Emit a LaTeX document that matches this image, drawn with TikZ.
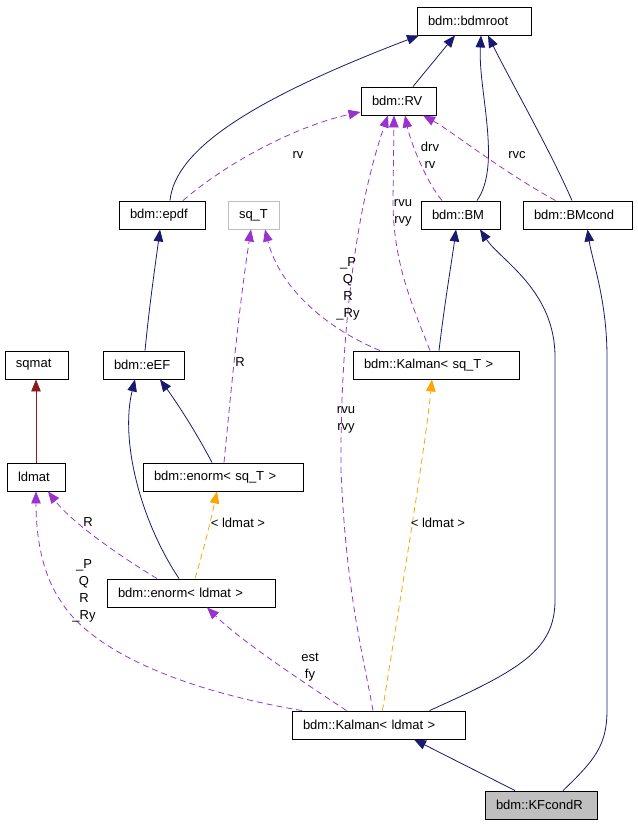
\documentclass[tikz,border=0pt]{standalone}
\usepackage{fontspec}
\setmainfont{Liberation Sans}
\usepackage{tikz}
\usetikzlibrary{arrows.meta, positioning}
\definecolor{inhblue}{RGB}{25, 25, 112}
\definecolor{usepurple}{RGB}{154, 50, 205}
\definecolor{tmplorange}{RGB}{255, 165, 0}
\definecolor{inhred}{RGB}{139, 26, 26}
\definecolor{boxgray}{RGB}{191, 191, 191}
\tikzset{
    cls/.style={draw=black, line width=0.9pt, minimum height=28pt, inner xsep=11pt, inner ysep=0pt,
        text width=#1pt, align=left, font=\fontsize{13}{17}\selectfont},
    lbl/.style={align=center, inner sep=0pt, font=\fontsize{13}{17}\selectfont},
    tip/.style={-{Triangle[length=12pt, width=9.5pt]}},
    inh/.style={tip, draw=inhblue, line width=0.8pt},
    inhpriv/.style={tip, draw=inhred, line width=0.8pt},
    usage/.style={tip, draw=usepurple, line width=0.8pt, dash pattern=on 6pt off 4pt},
    tmpl/.style={tip, draw=tmplorange, line width=0.8pt, dash pattern=on 6pt off 4pt}
}
\begin{document}
\begin{tikzpicture}[x=1pt, y=-1pt]
    \useasboundingbox (0,0) rectangle (637,824);

    \node[cls=92] (root) at (474,21) {bdm::bdmroot};
    \node[cls=53] (rv) at (398.5,101) {bdm::RV};
    \node[cls=64] (epdf) at (162,215) {bdm::epdf};
    \node[cls=29, draw=boxgray] (sqT) at (253.5,215) {sq\_T};
    \node[cls=57] (bm) at (460.5,215) {bdm::BM};
    \node[cls=87] (bmc) at (577.5,215) {bdm::BMcond};
    \node[cls=41] (sqmat) at (36.5,365) {sqmat};
    \node[cls=59] (eef) at (143.5,365) {bdm::eEF};
    \node[cls=144] (kst) at (436,365) {bdm::Kalman< sq\_T >};
    \node[cls=36] (ldmat) at (36,477) {ldmat};
    \node[cls=138] (enst) at (223,477) {bdm::enorm< sq\_T >};
    \node[cls=146] (enld) at (191,593) {bdm::enorm< ldmat >};
    \node[cls=151] (kld) at (378.5,725) {bdm::Kalman< ldmat >};
    \node[cls=90, fill=boxgray] (kf) at (541,805) {bdm::KFcondR};

    \draw[inh] ([xshift=8pt]epdf.north) .. controls (175,150) and (250,100) .. ([xshift=-55pt]root.south);
    \draw[inh] ([xshift=14.5pt]rv.north) -- ([xshift=-19pt]root.south);
    \draw[inh] ([xshift=16.5pt]bm.north) .. controls (502,165) and (478,90) .. ([xshift=7pt]root.south);
    \draw[inh] ([xshift=-5.5pt]bmc.north) .. controls (550,150) and (510,80) .. ([xshift=14pt]root.south);
    \draw[inh] ([xshift=1.5pt]eef.north) .. controls (150,300) and (156,260) .. ([xshift=-2pt]epdf.south);
    \draw[inh] ([xshift=3pt]kst.north) .. controls (445,300) and (452,260) .. ([xshift=-4.5pt]bm.south);
    \draw[inh] ([xshift=51pt]kld.north) .. controls (520,670) and (555,650) .. (555,600)
        -- (555,357) .. controls (555,290) and (500,260) .. ([xshift=19.5pt]bm.south);
    \draw[inh] ([xshift=22pt]kf.north) .. controls (595,760) and (607,745) .. (607,710)
        -- (607,357) .. controls (607,300) and (592,260) .. ([xshift=10pt]bmc.south);
    \draw[inh] ([xshift=-26pt]kf.north) -- ([xshift=35.5pt]kld.south);
    \draw[inh] ([xshift=-11pt]enst.north) .. controls (195,430) and (175,400) .. ([xshift=16.5pt]eef.south);
    \draw[inh] ([xshift=-12pt]enld.north) .. controls (140,520) and (120,440) .. ([xshift=-8.5pt]eef.south);
    \draw[inhpriv] (ldmat.north) -- ([xshift=-0.5pt]sqmat.south);

    \draw[usage] ([xshift=21pt]epdf.north) .. controls (230,160) and (300,125) .. ([yshift=-11pt]rv.west);
    \draw[usage] ([xshift=-18.5pt]bm.north) .. controls (425,180) and (410,140) .. ([xshift=6.5pt]rv.south);
    \draw[usage] ([xshift=-22pt]bmc.north) .. controls (500,170) and (450,130) .. ([xshift=24.5pt]rv.south);
    \draw[usage] ([xshift=-6pt]kst.north) .. controls (410,300) and (393,260) .. (393,200) -- ([xshift=-4.5pt]rv.south);
    \draw[usage] ([xshift=-5.5pt]kld.north) .. controls (362,650) and (346,590) .. (341,470)
        .. controls (340,340) and (355,210) .. ([xshift=-10.5pt]rv.south);
    \draw[usage] ([xshift=-56pt]kst.north) .. controls (330,330) and (280,290) .. ([xshift=11.5pt]sqT.south);
    \draw[usage] ([xshift=1pt]enst.north) .. controls (232,380) and (240,300) .. ([xshift=-2.5pt]sqT.south);
    \draw[usage] ([xshift=-34pt]enld.north) .. controls (110,550) and (70,520) .. ([xshift=12pt]ldmat.south);
    \draw[usage] ([xshift=-76.5pt]kld.north) .. controls (180,690) and (90,650) .. (60,600)
        .. controls (40,570) and (36,530) .. (ldmat.south);
    \draw[usage] ([xshift=-32pt]kld.north) .. controls (300,680) and (240,640) .. ([xshift=16pt]enld.south);

    \draw[tmpl] ([xshift=4pt]enld.north) .. controls (205,545) and (212,515) .. ([xshift=-6pt]enst.south);
    \draw[tmpl] ([xshift=4pt]kld.north) .. controls (400,600) and (425,450) .. ([xshift=-4pt]kst.south);

    \node[lbl] (l-epdf) at (298,155) {rv};
    \node[lbl] (l-bm) at (430,155) {drv\\rv};
    \node[lbl] (l-bmc) at (517,155) {rvc};
    \node[lbl] (l-kst) at (403,213) {rvu\\rvy};
    \node[lbl] (l-ksq) at (348,289) {\_P\\Q\\R\\\_Ry};
    \node[lbl] (l-kld) at (346,420) {rvu\\rvy};
    \node[lbl] (l-enst) at (240,362) {R};
    \node[lbl] (l-enld) at (88,522) {R};
    \node[lbl] (l-kldm) at (84,591) {\_P\\Q\\R\\\_Ry};
    \node[lbl] (l-est) at (310,667) {est\\fy};
    \node[lbl] (l-tenst) at (238,523) {< ldmat >};
    \node[lbl] (l-tkst) at (438,523) {< ldmat >};
\end{tikzpicture}
\end{document}
